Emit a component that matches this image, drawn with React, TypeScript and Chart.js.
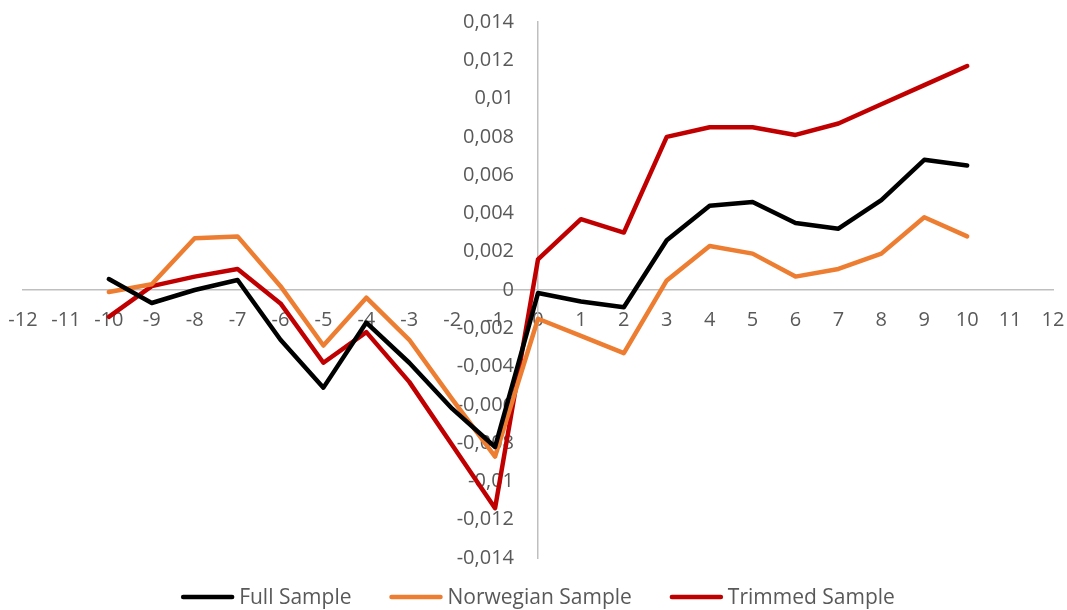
import React, { useEffect, useRef } from "react";
import { Chart, registerables } from "chart.js";

Chart.register(...registerables);

const xValues = [-10, -9, -8, -7, -6, -5, -4, -3, -2, -1, 0, 1, 2, 3, 4, 5, 6, 7, 8, 9, 10];
const fullSample = [0.00057, -0.00068, 0.0, 0.00052, -0.0026, -0.0051, -0.0017, -0.0038, -0.0062, -0.0082, -0.00016, -0.0006, -0.0009, 0.0026, 0.0044, 0.0046, 0.0035, 0.0032, 0.0047, 0.0068, 0.0065];
const norwegianSample = [-0.0001, 0.0003, 0.0027, 0.0028, 0.0002, -0.0029, -0.0004, -0.0026, -0.0057, -0.0087, -0.0015, -0.0024, -0.0033, 0.0005, 0.0023, 0.0019, 0.0007, 0.0011, 0.0019, 0.0038, 0.0028];
const trimmedSample = [-0.0014, 0.0002, 0.0007, 0.0011, -0.0007, -0.0038, -0.0022, -0.0048, -0.0081, -0.0114, 0.0016, 0.0037, 0.003, 0.008, 0.0085, 0.0085, 0.0081, 0.0087, 0.0097, 0.0107, 0.0117];
const seriesNames = ["Full Sample", "Norwegian Sample", "Trimmed Sample"];
const seriesColors = ["#000000", "#ED7D31", "#C00000"];

const FONT = "'Open Sans', 'Noto Sans', sans-serif";
const TEXT_COLOR = "#595959";

const yLabelShift = {
  id: "yLabelShift",
  beforeDraw(chart: any) {
    const items = chart.scales.y.getLabelItems();
    if ((items as any)._shifted) return;
    items.forEach((it: any) => {
      it.options.translation[0] -= 24;
    });
    (items as any)._shifted = true;
  },
};

const bottomLegend = {
  id: "bottomLegend",
  afterDraw(chart: any) {
    const ctx = chart.ctx;
    const area = chart.chartArea;
    const lineLen = 53;
    const gapText = 5;
    const gapItem = 38;
    const cy = 597;
    ctx.save();
    ctx.font = `21px ${FONT}`;
    ctx.textBaseline = "middle";
    ctx.textAlign = "left";
    const ds = chart.data.datasets;
    const widths = ds.map((d: any) => lineLen + gapText + ctx.measureText(d.label).width);
    const total = widths.reduce((a: number, b: number) => a + b, 0) + gapItem * (ds.length - 1);
    let x = (area.left + area.right) / 2 - total / 2;
    ds.forEach((d: any, i: number) => {
      ctx.strokeStyle = d.borderColor;
      ctx.lineWidth = 4.5;
      ctx.lineCap = "round";
      ctx.beginPath();
      ctx.moveTo(x + 2, cy);
      ctx.lineTo(x + lineLen - 2, cy);
      ctx.stroke();
      ctx.fillStyle = TEXT_COLOR;
      ctx.fillText(d.label, x + lineLen + gapText, cy + 1);
      x += widths[i] + gapItem;
    });
    ctx.restore();
  },
};

export default function App() {
  const ref = useRef<HTMLCanvasElement | null>(null);
  useEffect(() => {
    if (!ref.current) return;
    const all = [fullSample, norwegianSample, trimmedSample];
    const chart = new Chart(ref.current, {
      type: "line",
      data: {
        datasets: all.map((arr, i) => ({
          label: seriesNames[i],
          data: arr.map((y, j) => ({ x: xValues[j], y })),
          borderColor: seriesColors[i],
          backgroundColor: seriesColors[i],
          borderWidth: 4.5,
          pointRadius: 0,
          tension: 0,
          borderJoinStyle: "round" as const,
          borderCapStyle: "round" as const,
        })),
      },
      options: {
        animation: false,
        responsive: true,
        maintainAspectRatio: false,
        layout: { padding: { left: 23, right: 14, top: 22, bottom: 52 } },
        scales: {
          x: {
            type: "linear",
            min: -12,
            max: 12,
            position: { y: 0 } as any,
            afterFit: (s: any) => {
              s.paddingLeft = 0;
              s.paddingRight = 0;
            },
            ticks: {
              stepSize: 1,
              color: TEXT_COLOR,
              font: { family: FONT, size: 20 },
              padding: 18,
              maxRotation: 0,
              autoSkip: false,
            },
            grid: { display: false, drawTicks: false },
            border: { display: true, color: "#BFBFBF", width: 1.5 },
          },
          y: {
            type: "linear",
            min: -0.014,
            max: 0.014,
            position: { x: 0 } as any,
            afterFit: (s: any) => {
              s.paddingTop = 0;
              s.paddingBottom = 0;
            },
            ticks: {
              stepSize: 0.002,
              color: TEXT_COLOR,
              font: { family: FONT, size: 20 },
              padding: 0,
              callback: (v: any) => Number(Number(v).toFixed(3)).toString().replace(".", ","),
            },
            grid: { display: false, drawTicks: false },
            border: { display: true, color: "#BFBFBF", width: 1.5 },
          },
        },
        plugins: {
          legend: { display: false },
          tooltip: { enabled: false },
        },
      },
      plugins: [yLabelShift, bottomLegend],
    });
    return () => chart.destroy();
  }, []);
  return (
    <div style={{ position: "fixed", left: 0, top: 0, width: 1067, height: 610, background: "#fff" }}>
      <canvas ref={ref} />
    </div>
  );
}
